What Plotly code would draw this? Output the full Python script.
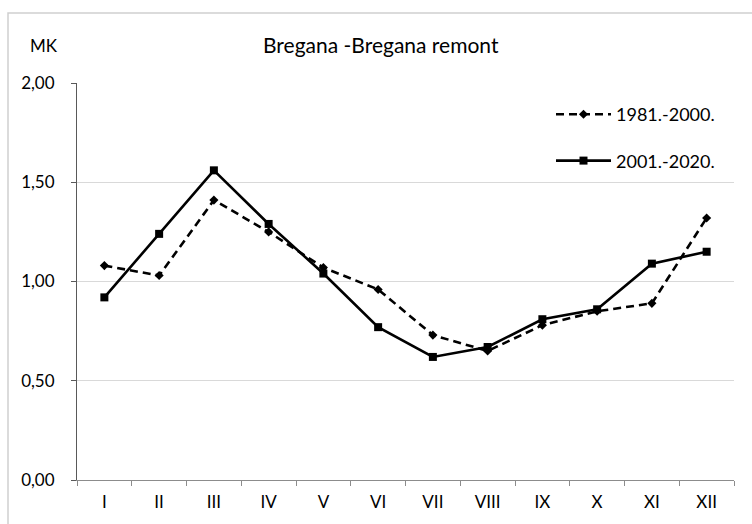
import plotly.graph_objects as go

# Monthly coefficients (MK) for the Bregana - Bregana remont station
months = ["I", "II", "III", "IV", "V", "VI", "VII", "VIII", "IX", "X", "XI", "XII"]
mk_1981_2000 = [1.08, 1.03, 1.41, 1.25, 1.07, 0.96, 0.73, 0.65, 0.78, 0.85, 0.89, 1.32]
mk_2001_2020 = [0.92, 1.24, 1.56, 1.29, 1.04, 0.77, 0.62, 0.67, 0.81, 0.86, 1.09, 1.15]

y_ticks = [0.0, 0.5, 1.0, 1.5, 2.0]
y_tick_text = ["0,00", "0,50", "1,00", "1,50", "2,00"]

FONT = "Lato"
W, H = 752, 524
ML, MR, MT, MB = 77, 18, 83, 44
PW, PH = W - ML - MR, H - MT - MB


def px_x(x):
    return (x - ML) / PW


def px_y(y):
    return (H - MB - y) / PH


fig = go.Figure()
fig.add_trace(go.Scatter(
    x=months, y=mk_1981_2000, name="1981.-2000.", mode="lines+markers",
    legendgroup="p1",
    line=dict(color="black", width=2.6, dash="8px,5px"),
    marker=dict(symbol="diamond", size=7, color="black"),
))
fig.add_trace(go.Scatter(
    x=months, y=mk_2001_2020, name="2001.-2020.", mode="lines+markers",
    legendgroup="p2",
    line=dict(color="black", width=2.6),
    marker=dict(symbol="square", size=8, color="black"),
))

fig.update_layout(
    width=W, height=H,
    margin=dict(l=ML, r=MR, t=MT, b=MB, pad=0),
    paper_bgcolor="white", plot_bgcolor="white",
    font=dict(family=FONT, size=17, color="black"),
    showlegend=True,
    legend=dict(
        x=px_x(551), y=px_y(96), xanchor="left", yanchor="top",
        bgcolor="rgba(0,0,0,0)", font=dict(size=18),
        tracegroupgap=20, itemwidth=55,
    ),
    xaxis=dict(
        type="category", range=[-0.5, 11.5],
        showline=True, linecolor="#8c8c8c", linewidth=1,
        ticks="outside", tickson="boundaries", ticklen=5, tickcolor="#8c8c8c",
        showgrid=False, zeroline=False, ticklabelstandoff=7,
    ),
    yaxis=dict(
        range=[0, 2], tickvals=y_ticks, ticktext=y_tick_text,
        showgrid=True, gridcolor="#d9d9d9", gridwidth=1,
        showline=True, linecolor="#595959", linewidth=1,
        ticks="outside", ticklen=5, tickcolor="#595959",
        zeroline=False, ticklabelstandoff=13,
    ),
    annotations=[
        dict(text="Bregana -Bregana remont", xref="paper", yref="paper",
             x=px_x(381), y=px_y(45), showarrow=False,
             font=dict(size=21), xanchor="center", yanchor="middle"),
        dict(text="MK", xref="paper", yref="paper",
             x=px_x(44), y=px_y(46), showarrow=False,
             font=dict(size=17), xanchor="center", yanchor="middle"),
    ],
    shapes=[
        dict(type="rect", xref="paper", yref="paper",
             x0=px_x(8), x1=px_x(800), y0=px_y(600), y1=px_y(13),
             line=dict(color="#cfcfcf", width=1.5), layer="below"),
    ],
)

fig.write_html("out.html")
